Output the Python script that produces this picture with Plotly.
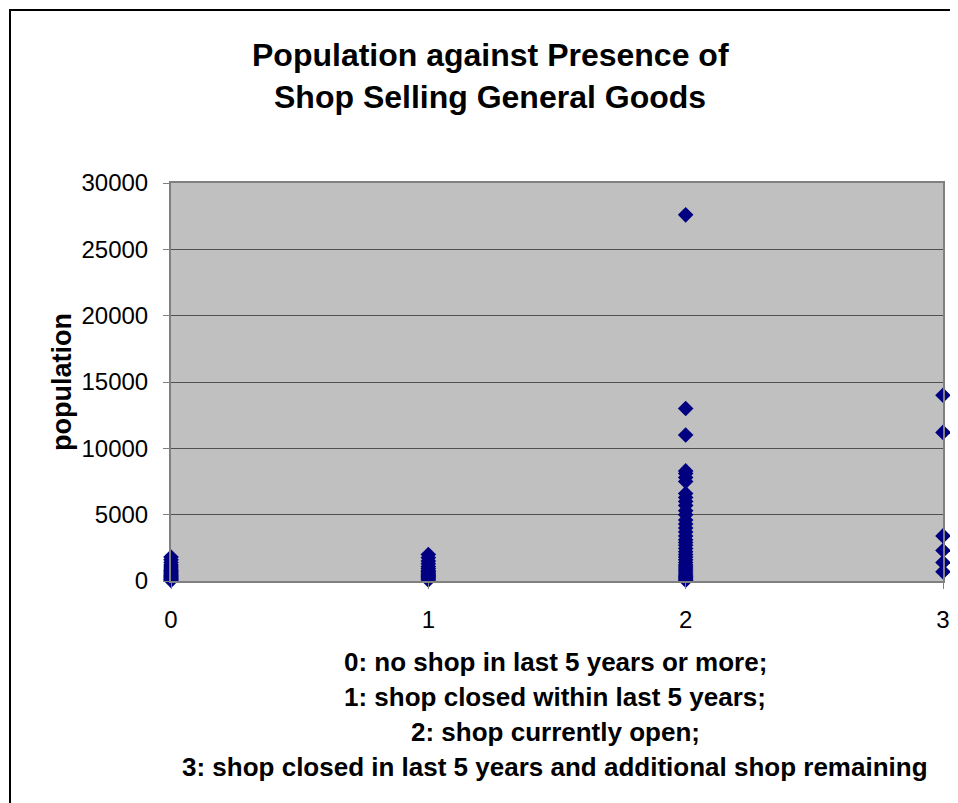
import plotly.graph_objects as go

# shop status code -> list of village populations
pop_status_0 = [50, 120, 200, 280, 350, 430, 520, 600, 700, 800, 900, 1050, 1200, 1400, 1600, 1800]
pop_status_1 = [80, 150, 250, 330, 420, 500, 600, 700, 800, 950, 1100, 1300, 1500, 1750, 2000]
pop_status_2 = [60, 150, 250, 350, 450, 600, 750, 900, 1050, 1200, 1400, 1600, 1800, 2000,
                2200, 2450, 2700, 2900, 3100, 3400, 3700, 4000, 4300, 4600, 5000, 5300,
                5700, 6000, 6300, 6600, 7500, 7800, 8100, 8300, 11000, 13000, 27600]
pop_status_3 = [700, 1400, 2300, 3400, 11200, 14000]

status_codes = [0, 1, 2, 3]
x_notes = [
    "0: no shop in last 5 years or more;",
    "1: shop closed within last 5 years;",
    "2: shop currently open;",
    "3: shop closed in last 5 years and additional shop remaining",
]

xs, ys = [], []
for code, pops in zip(status_codes, [pop_status_0, pop_status_1, pop_status_2, pop_status_3]):
    xs += [code] * len(pops)
    ys += pops

# page places the figure 8px in from the top-left
W, H = 956, 795
PL, PR, PT, PB = 171, 943, 183, 581   # plot area in page pixels
pw, ph = PR - PL, PB - PT


def px(x):
    return (x - PL) / pw


def py(y):
    return (PB - y) / ph


fig = go.Figure()
fig.add_trace(go.Scatter(
    x=xs, y=ys, mode="markers",
    marker=dict(symbol="diamond", size=12, color="#000080", line=dict(width=0)),
    cliponaxis=False,
    showlegend=False,
))

font = "Liberation Sans, Arial, sans-serif"
fig.update_layout(
    width=W, height=H,
    margin=dict(l=PL - 8, r=W - (PR - 8), t=PT - 8, b=H - (PB - 8)),
    paper_bgcolor="white",
    plot_bgcolor="#C0C0C0",
    font=dict(family=font, size=24, color="black"),
)
fig.update_xaxes(
    range=[0, 3], tickvals=status_codes, ticks="outside", ticklen=6, tickcolor="#808080",
    showgrid=False, zeroline=False, showline=True, linecolor="#808080", linewidth=2,
    mirror=True, tickfont=dict(size=24), ticklabelstandoff=10,
)
fig.update_yaxes(
    range=[0, 30000], dtick=5000, tickformat="d", ticks="outside", ticklen=6,
    tickcolor="#808080", showgrid=True, gridcolor="#505050", gridwidth=1, zeroline=False,
    showline=True, linecolor="#808080", linewidth=2, mirror=True,
    tickfont=dict(size=24), ticklabelstandoff=10,
)


def label(text, x, y, size, angle=0):
    fig.add_annotation(text="<b>" + text + "</b>", xref="paper", yref="paper",
                       x=px(x), y=py(y), xanchor="center", yanchor="middle",
                       showarrow=False, textangle=angle, font=dict(size=size))


label("population", 62, 382, 27, angle=-90)
label("Population against Presence of", 490, 55, 32)
label("Shop Selling General Goods", 490, 97, 32)
for i, note in enumerate(x_notes):
    label(note, 555, 662 + 35 * i, 26)

# chart border
fig.add_shape(type="rect", xref="paper", yref="paper",
              x0=px(10), x1=px(956), y0=py(830), y1=py(10),
              line=dict(color="black", width=2), fillcolor="rgba(0,0,0,0)")

fig.write_html("out.html")
